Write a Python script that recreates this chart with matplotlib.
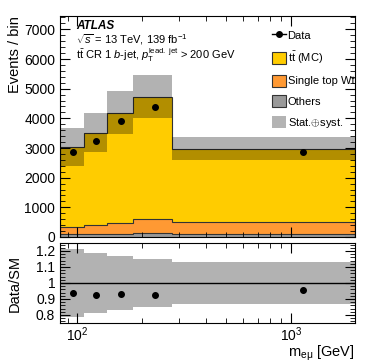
import numpy as np
import matplotlib
matplotlib.use("Agg")
from matplotlib import pyplot as plt
from matplotlib.ticker import MultipleLocator, NullFormatter, FormatStrFormatter, LogLocator
from matplotlib.patches import Patch
from matplotlib.lines import Line2D

plt.rcParams['font.family'] = ['Liberation Sans', 'DejaVu Sans']
plt.rcParams['mathtext.fontset'] = 'custom'
plt.rcParams['mathtext.rm'] = 'Liberation Sans'
plt.rcParams['mathtext.it'] = 'Liberation Sans:italic'
plt.rcParams['mathtext.bf'] = 'Liberation Sans:bold'

# m_emu bins [GeV]
edges = np.array([83, 107, 138, 183, 278, 2000])
others = np.array([90, 95, 100, 150, 85])
single_top = np.array([260, 315, 370, 460, 415])
ttbar = np.array([2690, 3100, 3720, 4120, 2480])
unc = np.array([640, 660, 720, 720, 400])
data = np.array([2850, 3240, 3900, 4380, 2850])

c_tt = '#ffcc00'
c_st = '#ff9933'
c_oth = '#999999'

total = others + single_top + ttbar
centers = 0.5 * (edges[:-1] + edges[1:])

fig = plt.figure(figsize=(3.74, 3.63), dpi=100)
W, H = 374.0, 363.0
ax = fig.add_axes([60 / W, 1 - 237 / H, 295 / W, 221 / H])
rax = fig.add_axes([60 / W, 1 - 323 / H, 295 / W, 80 / H], sharex=ax)

# stack
b1 = others
b2 = others + single_top
ax.stairs(others, edges, baseline=0, fill=True, color=c_oth, lw=0)
ax.stairs(b2, edges, baseline=b1, fill=True, color=c_st, lw=0)
ax.stairs(total, edges, baseline=b2, fill=True, color=c_tt, lw=0)
for top in (b1, b2, total):
    ax.stairs(top, edges, color='#333333', lw=0.8)
ax.stairs(total + unc, edges, baseline=total - unc, fill=True, color='k', alpha=0.3, lw=0)
ax.errorbar(centers, data, yerr=np.sqrt(data), fmt='o', color='k', ms=4, lw=1)

ax.set_xscale('log')
ax.set_xlim(83, 2000)
ax.set_ylim(0, 7450)
ax.yaxis.set_major_locator(MultipleLocator(1000))
ax.yaxis.set_minor_locator(MultipleLocator(200))
ax.set_ylabel('Events / bin', fontsize=10.5)
ax.yaxis.set_label_coords(-0.129, 1.0, transform=ax.transAxes)
ax.yaxis.label.set_ha('right')

ax.text(0.055, 0.955, 'ATLAS', transform=ax.transAxes, fontsize=8.5,
        fontweight='bold', fontstyle='italic', va='center')
ax.text(0.055, 0.893, r'$\sqrt{s}$ = 13 TeV, 139 fb$^{-1}$', transform=ax.transAxes,
        fontsize=8, va='center')
ax.text(0.055, 0.825, r't$\bar{\mathrm{t}}$ CR 1 $b$-jet, $p_{\mathrm{T}}^{\mathrm{lead.\ jet}}$ > 200 GeV',
        transform=ax.transAxes, fontsize=8, va='center')

handles = [Line2D([], [], color='k', marker='o', ms=4, lw=1),
           Patch(facecolor=c_tt, edgecolor='#333333', lw=0.8),
           Patch(facecolor=c_st, edgecolor='#333333', lw=0.8),
           Patch(facecolor=c_oth, edgecolor='#333333', lw=0.8),
           Patch(facecolor='#b3b3b3', edgecolor='none')]
labels = ['Data', r't$\bar{\mathrm{t}}$ (MC)', 'Single top Wt', 'Others', r'Stat.$\oplus$syst.']
ax.legend(handles, labels, loc='upper left', bbox_to_anchor=(272 / W, 1 - 29 / H),
          bbox_transform=fig.transFigure, frameon=False, fontsize=8,
          handlelength=1.25, handleheight=1.3, labelspacing=0.78,
          handletextpad=0.15, borderpad=0, borderaxespad=0)

# ratio
rel = unc / total
ratio = data / total
rax.stairs(1 + rel, edges, baseline=1 - rel, fill=True, color='k', alpha=0.3, lw=0)
rax.axhline(1, color='k', lw=1)
rax.errorbar(centers, ratio, yerr=np.sqrt(data) / total, fmt='o', color='k', ms=4, lw=1)
rax.set_ylim(0.75, 1.25)
rax.yaxis.set_major_locator(MultipleLocator(0.1))
rax.yaxis.set_minor_locator(MultipleLocator(0.02))
rax.yaxis.set_major_formatter(FormatStrFormatter('%g'))
rax.set_ylabel('Data/SM', fontsize=10.5)
rax.yaxis.set_label_coords(-0.129, 0.5, transform=rax.transAxes)
rax.set_xlabel(r'm$_{\mathrm{e\mu}}$ [GeV]', fontsize=10.5)
rax.xaxis.set_label_coords(1.0, -0.255, transform=rax.transAxes)
rax.xaxis.label.set_ha('right')
rax.xaxis.label.set_va('top')

for a in (ax, rax):
    a.tick_params(which='both', direction='in', top=True, right=True, labelsize=10)
    a.tick_params(which='major', length=7, width=0.8)
    a.tick_params(which='minor', length=3.5, width=0.6)
    a.xaxis.set_minor_formatter(NullFormatter())
    a.xaxis.set_major_locator(LogLocator(base=10))
    a.xaxis.set_minor_locator(LogLocator(base=10, subs=np.arange(2, 10)))
    for s in a.spines.values():
        s.set_linewidth(0.8)
plt.setp(ax.get_xticklabels(), visible=False)
rax.tick_params(axis='x', which='major', pad=2)

fig.savefig('out.png', dpi=100)
